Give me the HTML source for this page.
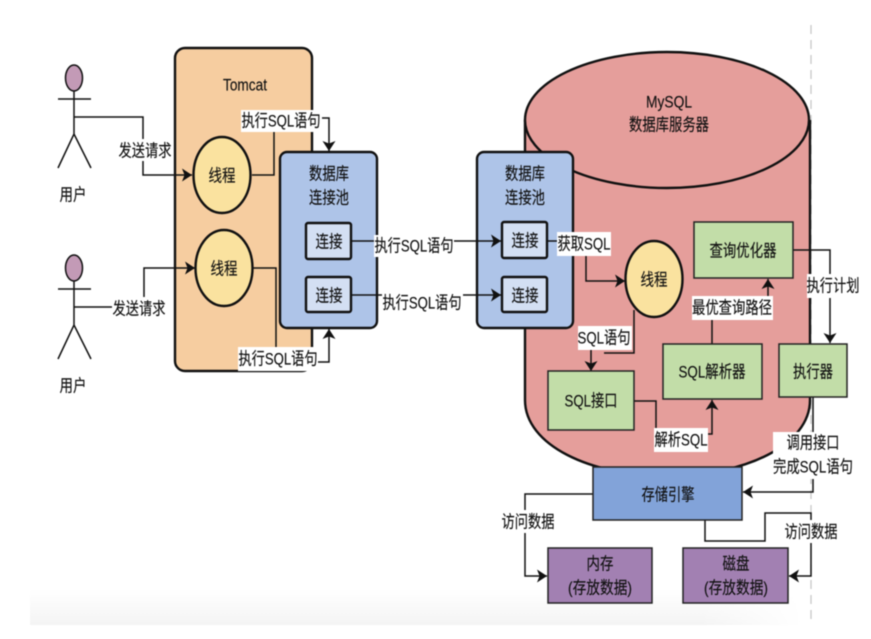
<!DOCTYPE html>
<html lang="zh"><head><meta charset="utf-8"><title>MySQL 架构</title>
<style>
html,body{margin:0;padding:0;background:#fff;width:871px;height:639px;overflow:hidden}
svg{display:block;filter:blur(.55px)}
text{font-family:"Liberation Sans","Noto Sans CJK SC",sans-serif;font-size:17px;fill:#111;stroke:#111;stroke-width:.15px;text-anchor:middle;dominant-baseline:central;transform:translateY(2px)}
.l{fill:none;stroke:#111;stroke-width:1.5}
.b{stroke:#111;stroke-width:2.4}
.g{fill:#c2dda8;stroke:#222;stroke-width:1.5}
.p{fill:#a280b2;stroke:#222;stroke-width:1.5}
.w{fill:#fff}
</style></head><body>
<svg width="871" height="639" viewBox="0 0 871 639" xmlns="http://www.w3.org/2000/svg">
<defs>
<linearGradient id="fade" x1="0" y1="0" x2="0" y2="1"><stop offset="0" stop-color="#fff"/><stop offset="1" stop-color="#f4f4f4"/></linearGradient>
<linearGradient id="fadex" x1="0" y1="0" x2="1" y2="0"><stop offset="0" stop-color="#fff" stop-opacity="0"/><stop offset="1" stop-color="#fff"/></linearGradient>
<marker id="a" markerUnits="userSpaceOnUse" markerWidth="14" markerHeight="14" refX="11" refY="7" orient="auto"><path d="M1 .5L11 7L1 13.5L3.5 7z" fill="#111"/></marker>
</defs>
<rect x="30" y="590" width="770" height="35" fill="url(#fade)"/>
<rect x="700" y="590" width="100" height="35" fill="url(#fadex)"/>
<line x1="811" y1="25" x2="811" y2="622" stroke="#c4c4c4" stroke-width="1.2" stroke-dasharray="9 6"/>

<!-- Tomcat -->
<rect class="b" x="175" y="48" width="137" height="323" rx="10" fill="#f6cda0"/>
<text x="245" y="83" textLength="44" lengthAdjust="spacingAndGlyphs">Tomcat</text>

<!-- Users -->
<g class="l">
<ellipse cx="74" cy="78" rx="8.5" ry="13" fill="#c39ab6"/>
<path d="M74 91V134M58 99H91M58 168L74 134L91 168"/>
<ellipse cx="74" cy="268" rx="8.5" ry="13" fill="#c39ab6"/>
<path d="M74 281V325M58 289H91M58 359L74 325L91 359"/>
</g>
<text x="73" y="193" textLength="27" lengthAdjust="spacingAndGlyphs">用户</text>
<text x="73" y="384" textLength="27" lengthAdjust="spacingAndGlyphs">用户</text>

<!-- MySQL cylinder -->
<path class="b" d="M525 120V400C525 445 590 476 667 476C745 476 810 445 810 400V120" fill="#e59e9b"/>
<ellipse class="b" cx="667" cy="120" rx="142" ry="68" fill="#e59e9b"/>
<text x="669" y="100" textLength="46" lengthAdjust="spacingAndGlyphs">MySQL</text>
<text x="669" y="123" textLength="80" lengthAdjust="spacingAndGlyphs">数据库服务器</text>

<!-- Connectors -->
<g class="l">
<path d="M74 117H143V175H192" marker-end="url(#a)"/>
<path d="M74 307H144V268H195" marker-end="url(#a)"/>
<path d="M252 175H274V125M318 118H329V151" marker-end="url(#a)"/>
<path d="M253 268H276V350M315 362H329V329" marker-end="url(#a)"/>
<path d="M586 250V281H625" marker-end="url(#a)"/>
<path d="M634 310V353H604M591 345V371" marker-end="url(#a)"/>
<path d="M634 401H656V432M700 434H712V400" marker-end="url(#a)"/>
<path d="M712 344V315M768 296V279" marker-end="url(#a)"/>
<path d="M793 250H830V343" marker-end="url(#a)"/>
<path d="M813 397V492H743" marker-end="url(#a)"/>
<path d="M593 494H525V576H547" marker-end="url(#a)"/>
<path d="M705 520V541H765V513H811V576H789" marker-end="url(#a)"/>
</g>

<!-- Pools -->
<rect class="b" x="280" y="152" width="97" height="176" rx="7" fill="#aec4e8"/>
<text x="329" y="172" textLength="40" lengthAdjust="spacingAndGlyphs">数据库</text>
<text x="329" y="196" textLength="40" lengthAdjust="spacingAndGlyphs">连接池</text>
<rect class="b" x="477" y="152" width="96" height="176" rx="7" fill="#aec4e8"/>
<text x="525" y="172" textLength="40" lengthAdjust="spacingAndGlyphs">数据库</text>
<text x="525" y="196" textLength="40" lengthAdjust="spacingAndGlyphs">连接池</text>

<!-- Connectors crossing the pools -->
<g class="l">
<path d="M351 241H501" marker-end="url(#a)"/>
<path d="M351 295H501" marker-end="url(#a)"/>
<path d="M547 241H560"/>
</g>

<rect class="b" x="306" y="223" width="45" height="36" rx="2" fill="#d3dff3"/>
<text x="329" y="240" textLength="27" lengthAdjust="spacingAndGlyphs">连接</text>
<rect class="b" x="306" y="277" width="45" height="35" rx="2" fill="#d3dff3"/>
<text x="329" y="294" textLength="27" lengthAdjust="spacingAndGlyphs">连接</text>
<rect class="b" x="502" y="222" width="45" height="36" rx="2" fill="#d3dff3"/>
<text x="525" y="239" textLength="27" lengthAdjust="spacingAndGlyphs">连接</text>
<rect class="b" x="502" y="277" width="45" height="35" rx="2" fill="#d3dff3"/>
<text x="525" y="294" textLength="27" lengthAdjust="spacingAndGlyphs">连接</text>

<!-- Threads -->
<ellipse class="b" cx="222" cy="175" rx="28.5" ry="38" fill="#fae29f"/>
<text x="222" y="174" textLength="27" lengthAdjust="spacingAndGlyphs">线程</text>
<ellipse class="b" cx="224" cy="268" rx="28.5" ry="38" fill="#fae29f"/>
<text x="224" y="267" textLength="27" lengthAdjust="spacingAndGlyphs">线程</text>
<ellipse class="b" cx="654" cy="279" rx="28.5" ry="38" fill="#fae29f"/>
<text x="654" y="278" textLength="27" lengthAdjust="spacingAndGlyphs">线程</text>

<!-- Boxes -->
<rect class="g" x="694" y="222" width="99" height="56"/>
<text x="743" y="249" textLength="67" lengthAdjust="spacingAndGlyphs">查询优化器</text>
<rect class="g" x="663" y="344" width="99" height="55"/>
<text x="712" y="370" textLength="67" lengthAdjust="spacingAndGlyphs">SQL解析器</text>
<rect class="g" x="779" y="344" width="68" height="53"/>
<text x="813" y="370" textLength="40" lengthAdjust="spacingAndGlyphs">执行器</text>
<rect class="g" x="548" y="371" width="86" height="59"/>
<text x="591" y="399" textLength="53" lengthAdjust="spacingAndGlyphs">SQL接口</text>
<rect x="593" y="467" width="149" height="53" fill="#82a3d9" stroke="#222" stroke-width="1.5"/>
<text x="668" y="493" textLength="53" lengthAdjust="spacingAndGlyphs">存储引擎</text>
<rect class="p" x="548" y="548" width="104" height="55"/>
<text x="600" y="562" textLength="27" lengthAdjust="spacingAndGlyphs">内存</text>
<text x="600" y="586" textLength="64" lengthAdjust="spacingAndGlyphs">(存放数据)</text>
<rect class="p" x="683" y="548" width="105" height="55"/>
<text x="736" y="562" textLength="27" lengthAdjust="spacingAndGlyphs">磁盘</text>
<text x="736" y="586" textLength="64" lengthAdjust="spacingAndGlyphs">(存放数据)</text>

<!-- Labels -->
<rect class="w" x="241" y="110" width="81" height="22"/>
<text x="281" y="119" textLength="79" lengthAdjust="spacingAndGlyphs">执行SQL语句</text>
<rect class="w" x="118" y="139" width="54" height="22"/>
<text x="145" y="149" textLength="53" lengthAdjust="spacingAndGlyphs">发送请求</text>
<rect class="w" x="112" y="297" width="54" height="22"/>
<text x="139" y="307" textLength="53" lengthAdjust="spacingAndGlyphs">发送请求</text>
<rect class="w" x="238" y="347" width="80" height="24"/>
<text x="278" y="357" textLength="79" lengthAdjust="spacingAndGlyphs">执行SQL语句</text>
<rect class="w" x="374" y="235" width="80" height="22"/>
<text x="414" y="244" textLength="79" lengthAdjust="spacingAndGlyphs">执行SQL语句</text>
<rect class="w" x="382" y="291" width="81" height="22"/>
<text x="422" y="301" textLength="79" lengthAdjust="spacingAndGlyphs">执行SQL语句</text>
<rect class="w" x="557" y="232" width="54" height="24"/>
<text x="584" y="242" textLength="53" lengthAdjust="spacingAndGlyphs">获取SQL</text>
<rect class="w" x="578" y="326" width="54" height="24"/>
<text x="604" y="336" textLength="53" lengthAdjust="spacingAndGlyphs">SQL语句</text>
<rect class="w" x="692" y="296" width="81" height="24"/>
<text x="732" y="306" textLength="80" lengthAdjust="spacingAndGlyphs">最优查询路径</text>
<rect class="w" x="807" y="274" width="53" height="24"/>
<text x="833" y="284" textLength="53" lengthAdjust="spacingAndGlyphs">执行计划</text>
<rect class="w" x="654" y="428" width="54" height="24"/>
<text x="681" y="438" textLength="53" lengthAdjust="spacingAndGlyphs">解析SQL</text>
<rect class="w" x="773" y="432" width="80" height="47"/>
<text x="813" y="441" textLength="53" lengthAdjust="spacingAndGlyphs">调用接口</text>
<text x="813" y="465" textLength="80" lengthAdjust="spacingAndGlyphs">完成SQL语句</text>
<rect class="w" x="502" y="510" width="54" height="23"/>
<text x="528" y="520" textLength="53" lengthAdjust="spacingAndGlyphs">访问数据</text>
<rect class="w" x="785" y="520" width="54" height="23"/>
<text x="811" y="530" textLength="53" lengthAdjust="spacingAndGlyphs">访问数据</text>
</svg>
</body></html>
